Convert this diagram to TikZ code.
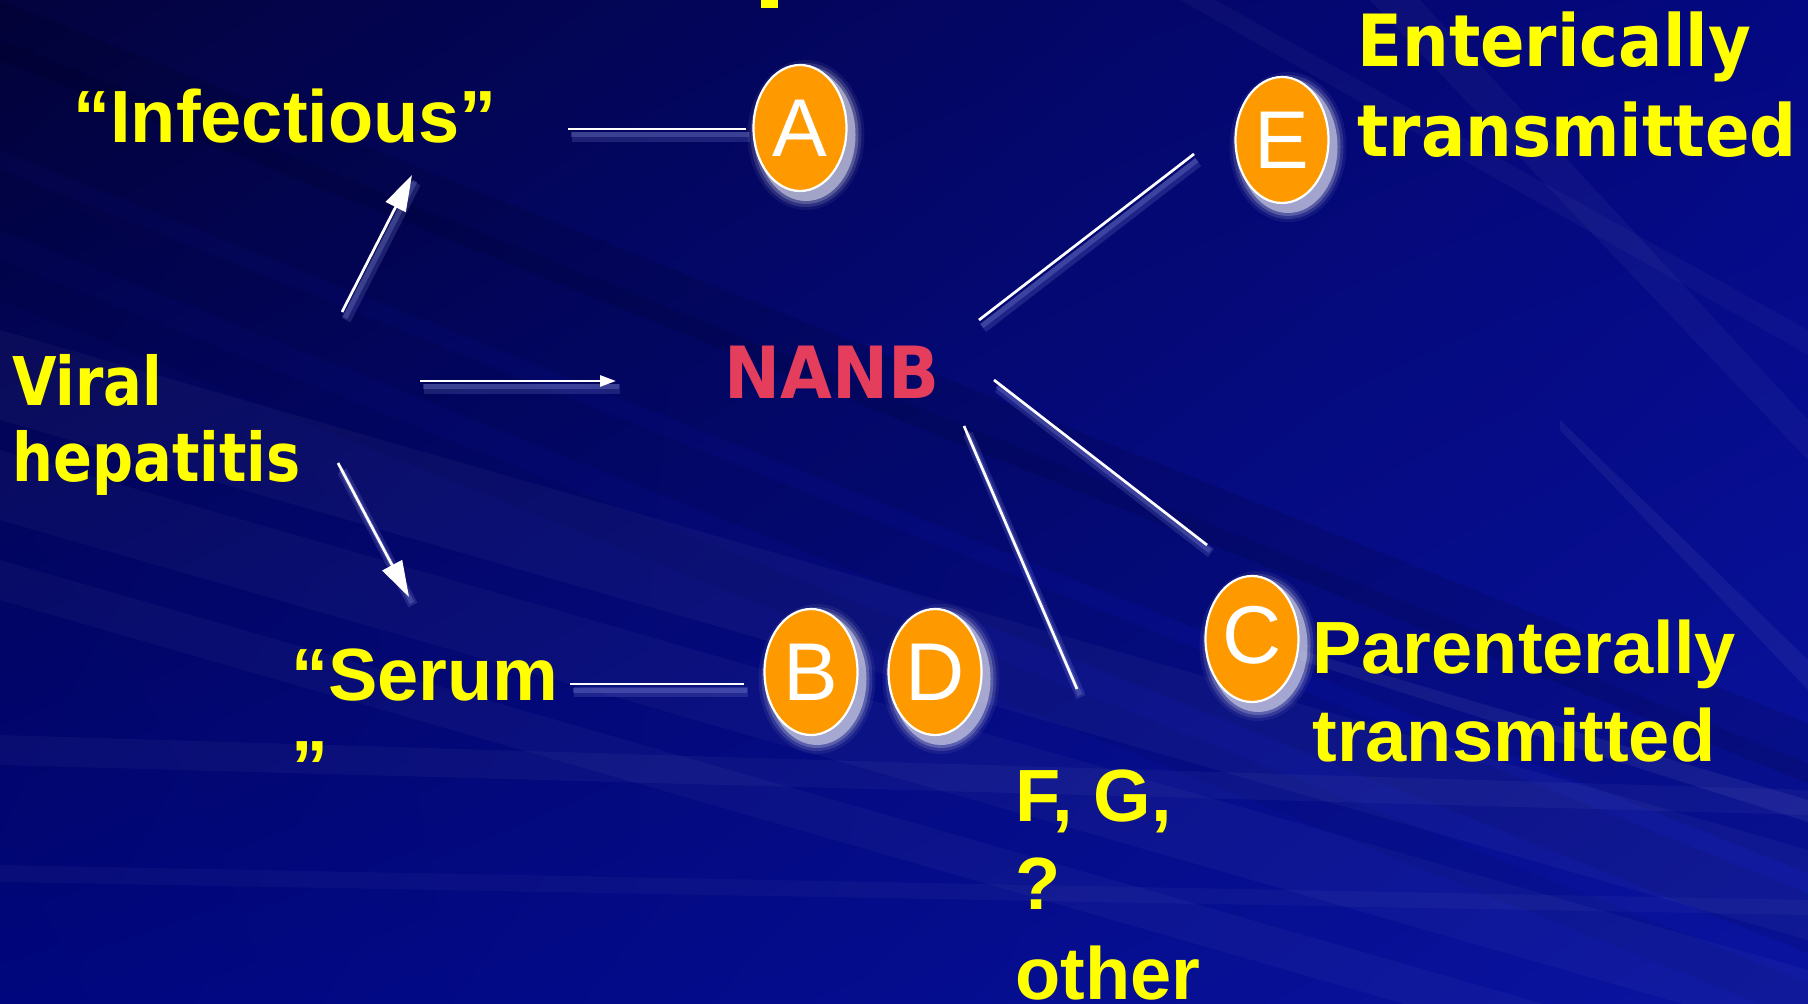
\documentclass[tikz,border=0pt]{standalone}
\usepackage{fontspec}
\usepackage{graphicx}
\setmainfont{Liberation Sans}
\newfontfamily\tahoma{DejaVu Sans}
\usetikzlibrary{arrows.meta,shapes.geometric,shadings}
\definecolor{yel}{RGB}{255,255,0}
\definecolor{orng}{RGB}{255,153,0}
\definecolor{nanbc}{RGB}{228,62,92}
\definecolor{shadowc}{RGB}{150,160,235}
\definecolor{bgul}{RGB}{3,3,62}
\definecolor{bgur}{RGB}{4,8,130}
\definecolor{bgll}{RGB}{0,6,125}
\definecolor{bglr}{RGB}{10,20,160}
\pgfdeclarelayer{back}
\pgfdeclarelayer{glow}
\pgfsetlayers{back,glow,main}
\tikzset{
  atxt/.style={text=yel, inner sep=0pt, anchor=base west, font=\fontsize{37}{44}\selectfont\bfseries},
  ttxt/.style={text=yel, inner sep=0pt, anchor=base west, font=\tahoma\fontsize{36}{45}\selectfont\bfseries},
  vtxt/.style={text=yel, inner sep=0pt, anchor=base west, font=\tahoma\fontsize{33.6}{38}\selectfont\bfseries},
  ntxt/.style={text=nanbc, inner sep=0pt, anchor=base west, font=\tahoma\fontsize{36}{45}\selectfont\bfseries},
  bubble/.style={ellipse, fill=orng, draw=white, line width=1.1pt, minimum width=46.5pt, minimum height=63pt, inner sep=0pt, text=white, font=\fontsize{41}{41}\selectfont},
  conn/.style={white, line width=1.35pt},
  lshadowA/.style={shadowc, opacity=0.18, line width=5pt},
  lshadowB/.style={shadowc, opacity=0.25, line width=2.5pt},
  bigarrow/.style={conn, -{Triangle[length=18pt,width=11pt]}},
  smallarrow/.style={conn, -{Triangle[length=8pt,width=5.5pt]}}
}
\begin{document}
\begin{tikzpicture}[x=0.5pt, y=-0.5pt]
\useasboundingbox (0,0) rectangle (1808,1004);
\begin{pgfonlayer}{back}
  \shade[upper left=bgul, upper right=bgur, lower left=bgll, lower right=bglr]
        (0,0) rectangle (1808,1004);
  \begin{scope}
    \clip (0,0) rectangle (1808,1004);
    % soft darker diagonal streaks at top-left
    \foreach \a/\b/\o in {0/60/0.10, 40/150/0.08, 170/230/0.07, 260/300/0.05} {
      \fill[black, opacity=\o] (0,\a) -- (0,\b) -- (2400,\b+960) -- (2400,\a+960) -- cycle;
    }
    % lighter diagonal streaks
    \foreach \a/\b/\o in {330/420/0.035, 450/520/0.03, 560/600/0.03} {
      \fill[white, opacity=\o] (0,\a) -- (0,\b) -- (1808,\b+520) -- (1808,\a+520) -- cycle;
    }
    % near-horizontal streaks at the bottom
    \fill[white, opacity=0.035] (0,735) -- (1808,790) -- (1808,815) -- (0,765) -- cycle;
    \fill[white, opacity=0.03] (0,865) -- (1808,900) -- (1808,915) -- (0,882) -- cycle;
    % streaks at the right
    \fill[white, opacity=0.06] (1300,650) -- (1808,800) -- (1808,822) -- (1300,660) -- cycle;
    \fill[white, opacity=0.05] (1560,420) -- (1808,660) -- (1808,690) -- (1560,430) -- cycle;
    \fill[white, opacity=0.035] (1370,0) -- (1420,0) -- (1808,420) -- (1808,460) -- cycle;
    \fill[white, opacity=0.03] (1180,0) -- (1215,0) -- (1808,330) -- (1808,355) -- cycle;
  \end{scope}
\end{pgfonlayer}

% fragment of a cut-off title letter at the top
\fill[yel] (761,0) rectangle (778,8);

% texts
\node[atxt] (inf) at (73,143) {“Infectious”};
\node[vtxt] (viral1) at (12,406) {\scalebox{0.855}[1]{Viral}};
\node[vtxt] (viral2) at (12,482) {\scalebox{0.855}[1]{hepatitis}};
\node[ntxt] (nanb) at (724,399) {\scalebox{0.93}[1]{NANB}};
\node[atxt] (serum1) at (291,700) {“Serum};
\node[atxt] (serum2) at (291,792) {”};
\node[ttxt] (ent1) at (1357,67) {\scalebox{0.912}[1]{Enterically}};
\node[ttxt] (ent2) at (1357,157) {\scalebox{0.912}[1]{transmitted}};
\node[atxt] (par1) at (1312,673) {Parenterally};
\node[atxt] (par2) at (1312,761) {transmitted};
\node[atxt] (fg1) at (1015,821) {F, G,};
\node[atxt] (fg2) at (1015,909) {?};
\node[atxt] (fg3) at (1015,999) {other};

% bubbles
\node[bubble] (A) at (800,128) {A};
\node[bubble] (B) at (811,672) {B};
\node[bubble] (D) at (935,672) {D};
\node[bubble] (C) at (1252,639) {\raisebox{4pt}{C}};
\node[bubble] (E) at (1282,140) {E};

\begin{pgfonlayer}{glow}
  \foreach \n in {A,B,C,D,E} {
    \foreach \g/\o in {12/0.06,9/0.12,6/0.2,3/0.45} {
      \fill[white, opacity=\o] ([shift={(6,7)}]\n.center) ellipse [x radius=46.5+\g, y radius=63+\g];
    }
  }
\end{pgfonlayer}

% connector end points
\coordinate (infL) at (568,129);  \coordinate (infR) at (746,129);
\coordinate (serL) at (570,684);  \coordinate (serR) at (744,684);
\coordinate (v1s) at (342,312);   \coordinate (v1e) at (412,175);
\coordinate (v2s) at (338,463);   \coordinate (v2e) at (409,597);
\coordinate (v3s) at (420,381);   \coordinate (v3e) at (616,381);
\coordinate (nEs) at (979,320);   \coordinate (nEe) at (1194,154);
\coordinate (nCs) at (994,380);   \coordinate (nCe) at (1207,545);
\coordinate (nFs) at (964,426);   \coordinate (nFe) at (1077,689);

\begin{pgfonlayer}{glow}
  \foreach \p/\q in {infL/infR, serL/serR, v1s/v1e, v2s/v2e, v3s/v3e, nEs/nEe, nCs/nCe, nFs/nFe} {
    \draw[lshadowA] ([shift={(4,8)}]\p) -- ([shift={(4,8)}]\q);
    \draw[lshadowB] ([shift={(3,6)}]\p) -- ([shift={(3,6)}]\q);
  }
\end{pgfonlayer}

\draw[conn] (infL) -- (infR);
\draw[conn] (serL) -- (serR);
\draw[bigarrow] (v1s) -- (v1e);
\draw[bigarrow] (v2s) -- (v2e);
\draw[smallarrow] (v3s) -- (v3e);
\draw[conn] (nEs) -- (nEe);
\draw[conn] (nCs) -- (nCe);
\draw[conn] (nFs) -- (nFe);
\end{tikzpicture}
\end{document}
